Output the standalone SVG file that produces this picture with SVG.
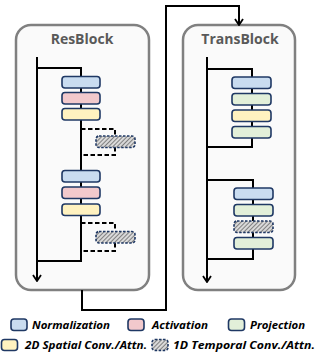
<svg xmlns="http://www.w3.org/2000/svg" width="324" height="353" viewBox="0 0 324 353">
<defs>
<pattern id="hatch" patternUnits="userSpaceOnUse" width="3" height="3" patternTransform="rotate(45)">
<rect width="3" height="3" fill="#d9d9d9"/>
<line x1="0" y1="0" x2="0" y2="3" stroke="#595959" stroke-width="1.4"/>
</pattern>
<marker id="arr" viewBox="0 0 10 10" refX="5" refY="9" markerWidth="10" markerHeight="10" markerUnits="userSpaceOnUse" orient="auto-start-reverse">
<path d="M1,3 L5,9 L9,3" fill="none" stroke="#000" stroke-width="1.8"/>
</marker>
<marker id="arr2" viewBox="0 0 10 10" refX="5" refY="9" markerWidth="10" markerHeight="10" markerUnits="userSpaceOnUse" orient="0">
<path d="M1,3 L5,9 L9,3" fill="none" stroke="#000" stroke-width="1.8"/>
</marker>
</defs>
<style>
.outer{fill:#fafafa;stroke:#808080;stroke-width:2.5}
.title{font-family:"Open Sans","Liberation Sans",sans-serif;font-weight:bold;font-size:14px;fill:#595959;text-anchor:middle}
.n{stroke:#1f3864;stroke-width:1.6}
.norm{fill:#c9dcf0}
.act{fill:#f2c9cc}
.proj{fill:#e2efd9}
.spat{fill:#fff2c0}
.temp{fill:url(#hatch);stroke-dasharray:2.5,1.5}
.ln{fill:none;stroke:#000;stroke-width:2}
.dash{fill:none;stroke:#000;stroke-width:2;stroke-dasharray:4.5,2.5}
.lg{font-family:"Open Sans","Liberation Sans",sans-serif;font-weight:bold;font-style:italic;font-size:11px;fill:#000}
</style>

<g id="resblock">
<rect class="outer" x="16" y="25" width="133" height="265" rx="15"/>
<text class="title" x="82" y="44">ResBlock</text>
</g>
<g id="transblock">
<rect class="outer" x="183" y="25" width="112" height="265" rx="15"/>
<text class="title" x="240" y="44">TransBlock</text>
</g>

<g id="connectors">
<!-- ResBlock -->
<path class="ln" d="M37,57 V281" marker-end="url(#arr2)"/>
<path class="ln" d="M37,68 H81 V128"/>
<path class="ln" d="M81,128 V261 H37"/>
<path class="dash" d="M81,129 H115 V136"/>
<path class="dash" d="M115,147 V155 H81"/>
<path class="dash" d="M81,223 H115 V231"/>
<path class="dash" d="M115,243 V251 H81"/>
<!-- between blocks -->
<path class="ln" d="M82,290 V310 H166 V6 H239 V25" marker-end="url(#arr2)"/>
<!-- TransBlock -->
<path class="ln" d="M207,57 V282" marker-end="url(#arr2)"/>
<path class="ln" d="M207,69 H252 V147 H207"/>
<path class="ln" d="M207,180 H253 V259 H207"/>
</g>

<g id="res-norm1"><rect class="n norm" x="62" y="76.5" width="38" height="11.5" rx="3"/></g>
<g id="res-act1"><rect class="n act" x="62" y="92.5" width="38" height="11.5" rx="3"/></g>
<g id="res-spat1"><rect class="n spat" x="62" y="108.5" width="38" height="11.5" rx="3"/></g>
<g id="res-temp1"><rect class="n temp" x="96" y="136" width="39" height="11.5" rx="3"/></g>
<g id="res-norm2"><rect class="n norm" x="62" y="170.5" width="38" height="11.5" rx="3"/></g>
<g id="res-act2"><rect class="n act" x="62" y="187" width="38" height="11.5" rx="3"/></g>
<g id="res-spat2"><rect class="n spat" x="62" y="204" width="38" height="11.5" rx="3"/></g>
<g id="res-temp2"><rect class="n temp" x="96" y="231.5" width="39" height="11.5" rx="3"/></g>

<g id="tr-norm1"><rect class="n norm" x="232" y="77" width="39" height="11.5" rx="3"/></g>
<g id="tr-proj1"><rect class="n proj" x="232" y="93.5" width="39" height="11.5" rx="3"/></g>
<g id="tr-spat"><rect class="n spat" x="232" y="110" width="39" height="11.5" rx="3"/></g>
<g id="tr-proj2"><rect class="n proj" x="232" y="126.5" width="39" height="11.5" rx="3"/></g>
<g id="tr-norm2"><rect class="n norm" x="234" y="188" width="39" height="11.5" rx="3"/></g>
<g id="tr-proj3"><rect class="n proj" x="234" y="204.5" width="39" height="11.5" rx="3"/></g>
<g id="tr-temp"><rect class="n temp" x="234" y="221" width="39" height="11.5" rx="3"/></g>
<g id="tr-proj4"><rect class="n proj" x="234" y="237.5" width="39" height="11.5" rx="3"/></g>

<g id="legend">
<rect class="n norm" x="11" y="319" width="16" height="11.5" rx="3"/>
<text class="lg" x="32" y="329" textLength="78" lengthAdjust="spacingAndGlyphs">Normalization</text>
<rect class="n act" x="128" y="319" width="16" height="11.5" rx="3"/>
<text class="lg" x="152" y="329" textLength="56" lengthAdjust="spacingAndGlyphs">Activation</text>
<rect class="n proj" x="228.5" y="319" width="16" height="11.5" rx="3"/>
<text class="lg" x="250" y="329" textLength="55" lengthAdjust="spacingAndGlyphs">Projection</text>
<rect class="n spat" x="1.5" y="339.5" width="16" height="11" rx="3"/>
<text class="lg" x="25" y="349" textLength="122" lengthAdjust="spacingAndGlyphs">2D Spatial Conv./Attn.</text>
<rect class="n temp" x="152" y="339.5" width="16" height="11" rx="3"/>
<text class="lg" x="173" y="349" textLength="142" lengthAdjust="spacingAndGlyphs">1D Temporal Conv./Attn.</text>
</g>
</svg>
